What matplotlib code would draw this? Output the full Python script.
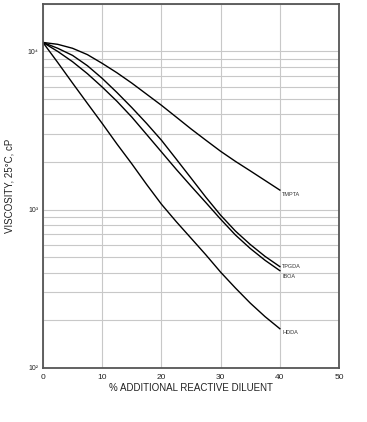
import matplotlib
matplotlib.use("Agg")
import matplotlib.pyplot as plt
import numpy as np
from matplotlib.ticker import LogLocator, NullFormatter, FixedLocator

plt.rcParams['font.family'] = ['Liberation Sans', 'DejaVu Sans']

# % additional reactive diluent
diluent_pct = [0, 2.5, 5, 7.5, 10, 12.5, 15, 17.5, 20, 22.5, 25, 27.5, 30, 32.5, 35, 37.5, 40]

# viscosity at 25 C, cP
tmpta = [11400, 11090, 10470, 9550, 8410, 7330, 6310, 5370, 4570, 3850, 3240, 2750, 2340, 2020, 1760, 1530, 1330]
tpgda = [11400, 10470, 9440, 8130, 6760, 5500, 4420, 3510, 2750, 2090, 1585, 1200, 923, 733, 603, 507, 437]
iboa = [11400, 10000, 8610, 7240, 5960, 4840, 3850, 2990, 2320, 1800, 1410, 1110, 871, 692, 569, 479, 412]
hdda = [11400, 8510, 6310, 4700, 3510, 2600, 1950, 1445, 1084, 841, 661, 519, 403, 320, 257, 211, 177]

series = [("TMPTA", tmpta), ("TPGDA", tpgda), ("IBOA", iboa), ("HDDA", hdda)]
label_offsets = {"TMPTA": 0.94, "TPGDA": 1.0, "IBOA": 0.92, "HDDA": 0.95}

fig = plt.figure(figsize=(3.67, 4.22), dpi=100)
ax = fig.add_axes([0.117, 0.128, 0.807, 0.863])

for name, vals in series:
    ax.plot(diluent_pct, vals, color='black', lw=1.0, solid_joinstyle='round')
    ax.text(diluent_pct[-1] + 0.4, vals[-1] * label_offsets[name], name,
            fontsize=4, color='#333333', ha='left', va='center')

ax.set_yscale('log')
ax.set_xlim(0, 50)
ax.set_ylim(100, 20000)

ax.xaxis.set_major_locator(FixedLocator([0, 10, 20, 30, 40, 50]))
ax.yaxis.set_major_locator(FixedLocator([100, 1000, 10000]))
ax.set_yticklabels(['10²', '10³', '10⁴'])
ax.yaxis.set_minor_locator(LogLocator(base=10, subs=np.arange(2, 10)))
ax.yaxis.set_minor_formatter(NullFormatter())

ax.grid(True, which='both', color='#c8c8c8', lw=0.8)
ax.set_axisbelow(True)
ax.tick_params(which='both', length=0, labelsize=6, colors='#222222', pad=4)
ax.tick_params(axis='y', labelsize=5, pad=3)

for s in ax.spines.values():
    s.set_color('#555555')
    s.set_linewidth(1.3)

ax.set_xlabel('% ADDITIONAL REACTIVE DILUENT', fontsize=7, color='#222222', labelpad=2)
ax.set_ylabel('VISCOSITY, 25°C, cP', fontsize=7, color='#222222', labelpad=10)

fig.savefig('out.png', dpi=100)
